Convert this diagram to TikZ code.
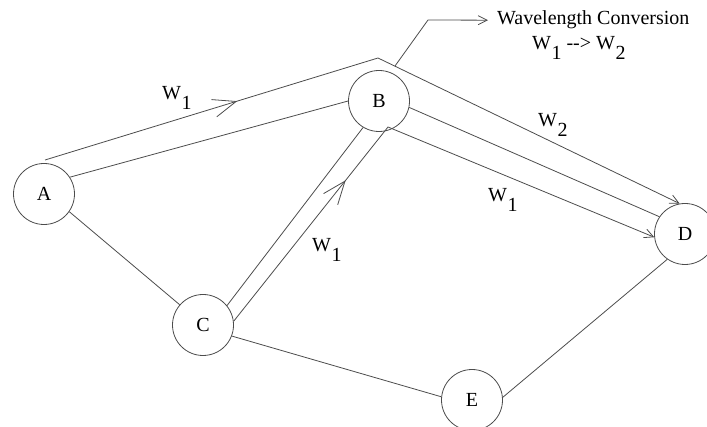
\documentclass[tikz,border=0pt]{standalone}
\usepackage{fontspec}
\setmainfont{Liberation Serif}
\usetikzlibrary{arrows.meta, decorations.markings, positioning}

\newcommand{\wsub}[1]{W\kern0.5pt\raisebox{-0.5em}{#1}}

\begin{document}
\begin{tikzpicture}[
  x=1pt, y=-1pt,
  every node/.style={font=\fontsize{20}{24}\selectfont},
  site/.style={draw=black!70, circle, minimum size=61pt, inner sep=0pt, line width=0.8pt},
  link/.style={draw=black!70, line width=0.8pt},
  lpath/.style={link, -{Straight Barb[length=9pt, width=9pt]}},
  wlab/.style={anchor=base west, inner sep=0pt},
  midarrow/.style={postaction={decorate}, decoration={markings,
      mark=at position #1 with {\arrow{Straight Barb[length=23pt, width=18pt, line width=0.8pt]}}}}
]
\useasboundingbox (0,0) rectangle (707,427);

% nodes of the network
\node[site] (A) at (44,194) {A};
\node[site] (B) at (379,101) {B};
\node[site] (C) at (203,325) {C};
\node[site] (D) at (685,234) {D};
\node[site] (E) at (472,400) {E};

% fibre links
\draw[link] (A.33) -- (B.180);
\draw[link] (A.-35) -- (C.139);
\draw[link] (C.39) -- (B.-121);
\draw[link] (B.-12) -- (D.146);
\draw[link] (C.-21) -- (E.174);
\draw[link] (E.5) -- (D.-125);

% lightpaths
\coordinate (start) at (45,160);
\coordinate (apex) at (378,58);
\coordinate (bend) at (388,127);
\draw[lpath, midarrow=201pt] (start) -- (apex) -- (D.100);
\draw[lpath, midarrow=180pt] (C.7) -- (bend) -- (D.186);

% wavelength labels
\node[wlab] (wa) at (162,100) {\wsub{1}};
\node[wlab] (wb) at (538,127) {\wsub{2}};
\node[wlab] (wc) at (488,202) {\wsub{1}};
\node[wlab] (wd) at (312,252) {\wsub{1}};

% conversion note
\node[wlab] (conv) at (497,25) {Wavelength Conversion};
\node[wlab] (convsub) at (532,50) {\wsub{1} -{}-> \wsub{2}};
\coordinate (tap) at (395,66);
\coordinate (knee) at (428,20);
\draw[link, -{Straight Barb[length=9pt, width=9pt]}, shorten >=9pt]
  (tap) -- (knee) -- (conv.west);

\end{tikzpicture}
\end{document}
